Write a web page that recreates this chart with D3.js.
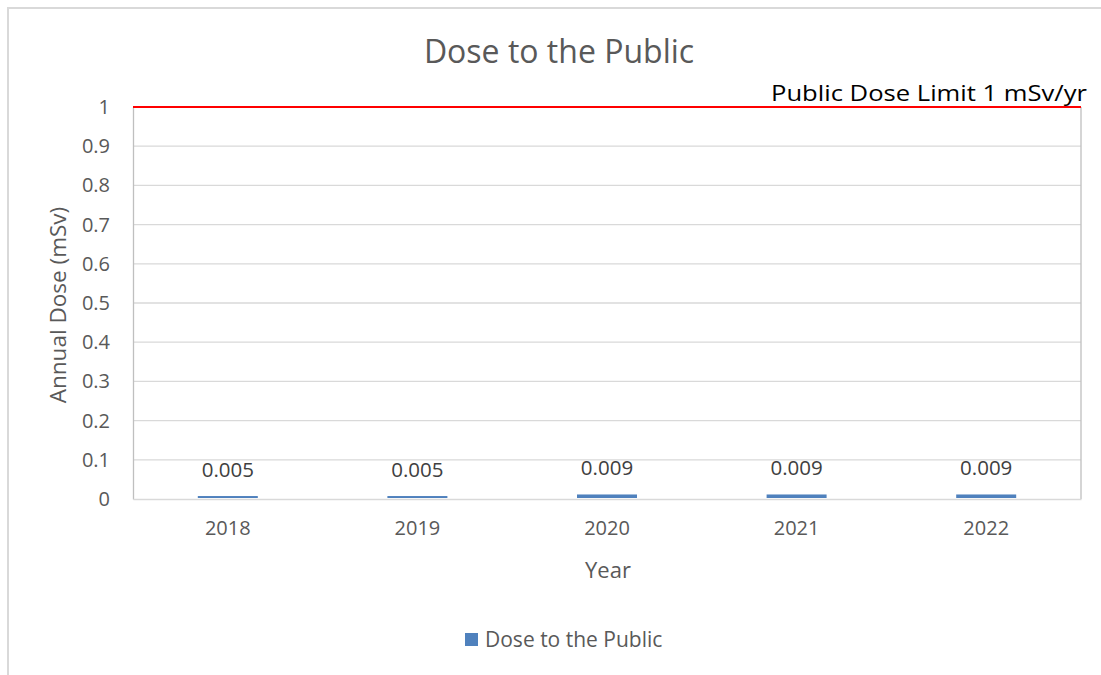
<!DOCTYPE html>
<html lang="en">
<head>
<meta charset="UTF-8">
<title>Dose to the Public</title>
<script src="https://d3js.org/d3.v7.min.js"></script>
<style>
body { margin: 0; background: #fff; }
text { font-family: "Open Sans", "Noto Sans", sans-serif; }
</style>
</head>
<body>
<svg id="chart" width="1101" height="675"></svg>
<script>
// chart data
var years = ["2018", "2019", "2020", "2021", "2022"]
var doses = [0.005, 0.005, 0.009, 0.009, 0.009]
var yTicks = [0, 0.1, 0.2, 0.3, 0.4, 0.5, 0.6, 0.7, 0.8, 0.9, 1]
var doseLimit = 1

var svg = d3.select("#chart")
// plot area edges (note: "top" is taken by window.top)
var plotL = 133, plotR = 1081, plotT = 107, plotB = 499

// outer chart border (cut off right and bottom like the source)
svg.append("rect")
  .attr("x", 8).attr("y", 8)
  .attr("width", 1110).attr("height", 700)
  .attr("fill", "none").attr("stroke", "#d9d9d9").attr("stroke-width", 2)

var x = d3.scaleBand().domain(years).range([plotL, plotR]).paddingInner(0).paddingOuter(0)
var y = d3.scaleLinear().domain([0, 1]).range([plotB, plotT])

// gridlines
svg.append("g").selectAll("line")
  .data(yTicks.slice(1))
  .enter().append("line")
  .attr("x1", plotL).attr("x2", plotR)
  .attr("y1", function(d) { return y(d) })
  .attr("y2", function(d) { return y(d) })
  .attr("stroke", "#d9d9d9").attr("stroke-width", 1.3)

// right side line of plot area
svg.append("line").attr("x1", plotR).attr("x2", plotR).attr("y1", plotT).attr("y2", plotB)
  .attr("stroke", "#bfbfbf").attr("stroke-width", 1.3)

// y axis
var yAxis = svg.append("g")
  .attr("transform", "translate(" + plotL + ",0)")
  .call(d3.axisLeft(y).tickValues(yTicks).tickSize(0).tickPadding(23)
    .tickFormat(function(d) { return d3.format("~g")(d) }))
yAxis.select(".domain").attr("stroke", "#bfbfbf").attr("stroke-width", 1.3)
yAxis.selectAll("text").attr("font-size", 20).attr("fill", "#595959")
  .attr("font-family", "'Open Sans', sans-serif")

// x axis
var xAxis = svg.append("g")
  .attr("transform", "translate(0," + plotB + ")")
  .call(d3.axisBottom(x).tickSize(0).tickPadding(22))
xAxis.select(".domain").attr("stroke", "#d9d9d9").attr("stroke-width", 1.3)
xAxis.selectAll("text").attr("font-size", 20).attr("fill", "#595959")
  .attr("font-family", "'Open Sans', sans-serif")

// bars
var barW = 60
svg.append("g").selectAll("rect")
  .data(doses)
  .enter().append("rect")
  .attr("x", function(d, i) { return x(years[i]) + x.bandwidth() / 2 - barW / 2 })
  .attr("width", barW)
  .attr("y", function(d) { return y(d) - 1 })
  .attr("height", function(d) { return plotB - y(d) })
  .attr("fill", "#4f81bd")

// data labels
svg.append("g").selectAll("text")
  .data(doses)
  .enter().append("text")
  .attr("x", function(d, i) { return x(years[i]) + x.bandwidth() / 2 })
  .attr("y", function(d) { return y(d) - 20 })
  .attr("text-anchor", "middle")
  .attr("font-size", 20.5).attr("fill", "#404040")
  .text(function(d) { return d3.format(".3f")(d) })

// dose limit line
svg.append("line")
  .attr("x1", plotL).attr("x2", plotR)
  .attr("y1", y(doseLimit)).attr("y2", y(doseLimit))
  .attr("stroke", "#ff0000").attr("stroke-width", 2)

svg.append("text")
  .attr("x", 1087).attr("y", y(doseLimit) - 6)
  .attr("text-anchor", "end")
  .attr("font-family", "'Liberation Sans', sans-serif")
  .attr("font-size", 22).attr("fill", "#000")
  .attr("textLength", 316).attr("lengthAdjust", "spacingAndGlyphs")
  .text("Public Dose Limit " + doseLimit + " mSv/yr")

// title
svg.append("text")
  .attr("x", 559).attr("y", 63)
  .attr("text-anchor", "middle")
  .attr("font-size", 32).attr("fill", "#595959")
  .text("Dose to the Public")

// axis titles
svg.append("text")
  .attr("transform", "translate(66,305) rotate(-90)")
  .attr("text-anchor", "middle")
  .attr("font-size", 22.5).attr("fill", "#595959")
  .text("Annual Dose (mSv)")

svg.append("text")
  .attr("x", 608).attr("y", 578)
  .attr("text-anchor", "middle")
  .attr("font-size", 22).attr("fill", "#595959")
  .text("Year")

// legend
svg.append("rect")
  .attr("x", 465).attr("y", 633).attr("width", 13).attr("height", 13)
  .attr("fill", "#4f81bd")
svg.append("text")
  .attr("x", 485).attr("y", 647)
  .attr("font-size", 21).attr("fill", "#595959")
  .text("Dose to the Public")
</script>
</body>
</html>
